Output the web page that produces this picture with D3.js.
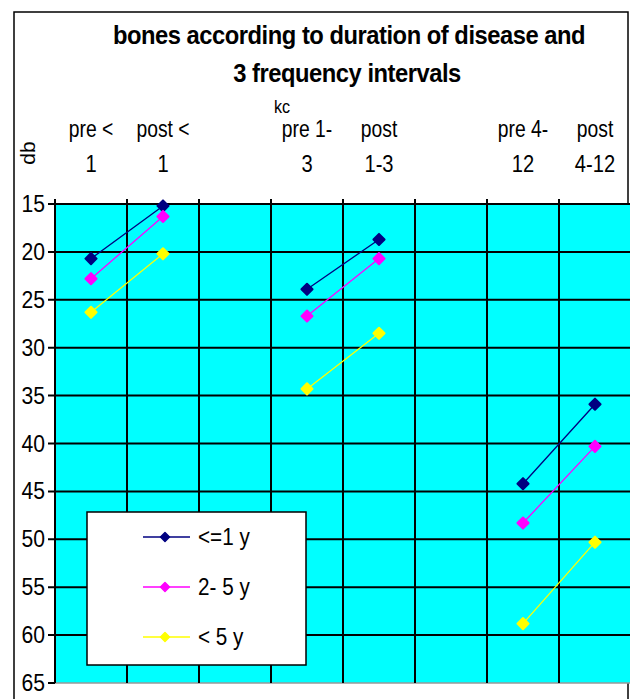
<!DOCTYPE html>
<html>
<head>
<meta charset="utf-8">
<script src="https://cdn.jsdelivr.net/npm/d3@7"></script>
<style>
  body { margin: 0; background: #fff; }
  text { font-family: "Liberation Sans", Arial, sans-serif; fill: #000; }
</style>
</head>
<body>
<div id="chart"></div>
<script>
const width = 630;
const height = 699;

// 8 category slots, two of them empty spacers
const catLine1 = ["pre <", "post <", "", "pre 1-", "post", "", "pre 4-", "post"];
const catLine2 = ["1", "1", "", "3", "1-3", "", "12", "4-12"];
const yTicks = [15, 20, 25, 30, 35, 40, 45, 50, 55, 60, 65];

const seriesNames = ["<=1 y", "2- 5 y", "< 5 y"];
const seriesColors = ["#000080", "#ff00ff", "#ffff00"];
const le1y   = [20.7, 15.2, null, 23.9, 18.7, null, 44.2, 35.9];
const y2to5  = [22.8, 16.3, null, 26.7, 20.7, null, 48.3, 40.3];
const gt5y   = [26.3, 20.2, null, 34.3, 28.5, null, 58.8, 50.3];
const seriesValues = [le1y, y2to5, gt5y];

const svg = d3.select("#chart").append("svg")
    .attr("width", width)
    .attr("height", height);

/* places a text squeezed horizontally (the chart uses a narrow font) */
function narrowText(parent, tx, ty, str, size, anchor, sx, extra) {
    var t = parent.append("text")
        .attr("transform", `translate(${tx},${ty}) scale(${sx},1)` + (extra || ""))
        .attr("text-anchor", anchor)
        .style("font-size", size + "px")
        .text(str);
    return t;
}

// outer chart frame
svg.append("rect")
    .attr("x", 14).attr("y", 12)
    .attr("width", 614).attr("height", 700)
    .attr("fill", "none")
    .attr("stroke", "#000")
    .attr("stroke-width", 1.5);

const x = d3.scaleBand()
    .domain(d3.range(catLine1.length))
    .range([55, 631]);

const y = d3.scaleLinear()
    .domain([15, 65])
    .range([204, 683]);

// plot background
svg.append("rect")
    .attr("x", x.range()[0]).attr("y", y(15))
    .attr("width", x.range()[1] - x.range()[0])
    .attr("height", y(65) - y(15))
    .attr("fill", "#00ffff");

// horizontal grid
svg.selectAll("line.hgrid")
    .data(yTicks.slice(0, -1))
    .enter().append("line")
    .attr("class", "hgrid")
    .attr("x1", 48).attr("x2", x.range()[1])
    .attr("y1", d => y(d)).attr("y2", d => y(d))
    .attr("stroke", "#000")
    .attr("stroke-width", 2);

// bottom edge (grey) + tick
svg.append("line")
    .attr("x1", x.range()[0]).attr("x2", x.range()[1])
    .attr("y1", y(65)).attr("y2", y(65))
    .attr("stroke", "#999").attr("stroke-width", 1.5);
svg.append("line")
    .attr("x1", 48).attr("x2", x.range()[0])
    .attr("y1", y(65)).attr("y2", y(65))
    .attr("stroke", "#000").attr("stroke-width", 2);

// vertical grid at band edges
const edges = d3.range(catLine1.length).map(i => x(i));
svg.selectAll("line.vgrid")
    .data(edges)
    .enter().append("line")
    .attr("class", "vgrid")
    .attr("x1", d => d).attr("x2", d => d)
    .attr("y1", y(15) - 5).attr("y2", y(65))
    .attr("stroke", "#000")
    .attr("stroke-width", 2);

// y tick labels
yTicks.forEach(d => {
    narrowText(svg, 45, y(d) + 8, d, 24, "end", 0.88);
});

// category labels above plot
d3.range(catLine1.length).forEach(i => {
    var cx = x(i) + x.bandwidth() / 2;
    narrowText(svg, cx, 137, catLine1[i], 23, "middle", 0.84);
    narrowText(svg, cx, 172, catLine2[i], 24, "middle", 0.84);
});

// title
narrowText(svg, 349, 44, "bones according to duration of disease and", 25, "middle", 0.95)
    .style("font-weight", "bold").style("letter-spacing", "-0.5px");
narrowText(svg, 347, 82, "3 frequency intervals", 25, "middle", 0.95)
    .style("font-weight", "bold").style("letter-spacing", "-0.5px");

// axis titles
narrowText(svg, 282, 113, "kc", 19, "middle", 0.85);
narrowText(svg, 35, 153, "db", 21, "middle", 1, " rotate(-90)");

// series
const marker = d3.symbol().type(d3.symbolSquare).size(62);
const line = d3.line()
    .defined(d => d.v !== null)
    .x(d => x(d.i) + x.bandwidth() / 2)
    .y(d => y(d.v));

seriesValues.forEach((vals, s) => {
    const pts = vals.map((v, i) => ({i: i, v: v}));
    svg.append("path")
        .datum(pts)
        .attr("d", line)
        .attr("fill", "none")
        .attr("stroke", seriesColors[s])
        .attr("stroke-width", 1.3);
    svg.selectAll("path.m" + s)
        .data(pts.filter(d => d.v !== null))
        .enter().append("path")
        .attr("class", "m" + s)
        .attr("d", marker)
        .attr("transform", d => `translate(${x(d.i) + x.bandwidth() / 2},${y(d.v)}) rotate(45)`)
        .attr("fill", seriesColors[s])
        .attr("stroke", seriesColors[s])
        .attr("stroke-width", 2)
        .attr("stroke-linejoin", "round");
});

// legend
const legend = svg.append("g").attr("transform", "translate(87,512)");
legend.append("rect")
    .attr("width", 219).attr("height", 153)
    .attr("fill", "#fff")
    .attr("stroke", "#000")
    .attr("stroke-width", 1.5);
const legendY = d3.scalePoint().domain(seriesNames).range([25, 125]);
seriesNames.forEach((name, s) => {
    const g = legend.append("g").attr("transform", `translate(0,${legendY(name)})`);
    g.append("line")
        .attr("x1", 56).attr("x2", 103)
        .attr("stroke", seriesColors[s])
        .attr("stroke-width", 1.5);
    g.append("path")
        .attr("d", d3.symbol().type(d3.symbolSquare).size(40))
        .attr("transform", "translate(78,0) rotate(45)")
        .attr("fill", seriesColors[s])
        .attr("stroke", seriesColors[s])
        .attr("stroke-width", 1.5)
        .attr("stroke-linejoin", "round");
    narrowText(g, 111, 8, name, 23, "start", 0.9);
});
</script>
</body>
</html>
